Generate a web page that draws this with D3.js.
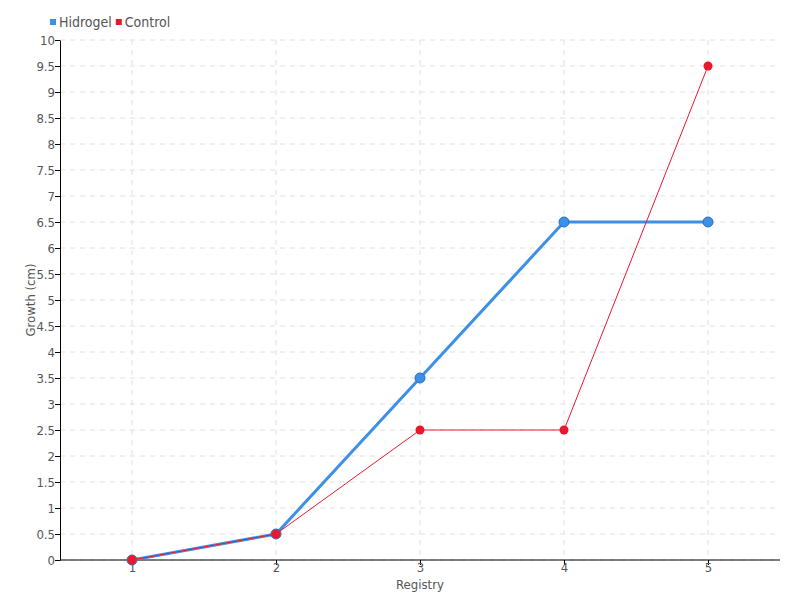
<!DOCTYPE html>
<html><head><meta charset="utf-8">
<script src="https://cdn.jsdelivr.net/npm/d3@7"></script>
<style>body{margin:0;background:#fff}text{font-family:"DejaVu Sans Condensed","DejaVu Sans",sans-serif;font-stretch:condensed}</style>
</head><body><svg id="c" width="800" height="600"></svg>
<script>
const categories = ["1","2","3","4","5"];
const hidrogel = [0, 0.5, 3.5, 6.5, 6.5];
const control = [0, 0.5, 2.5, 2.5, 9.5];
const yTicks = d3.range(0, 10.01, 0.5);
const seriesNames = ["Hidrogel","Control"];
const colors = ["#3d8fe8","#e8192c"];
const FONT = '"DejaVu Sans Condensed","DejaVu Sans",sans-serif';

const svg = d3.select("#c");
const m = {l:60, r:20, t:40, b:40};
const W = 800, H = 600;
const x = d3.scalePoint().domain(categories).range([m.l, W-m.r]).padding(0.5);
const y = d3.scaleLinear().domain([0,10]).range([H-m.b, m.t]);

// grid
svg.append("g").selectAll("line").data(yTicks).join("line")
  .attr("x1", m.l).attr("x2", W-m.r).attr("y1", d=>y(d)).attr("y2", d=>y(d))
  .attr("stroke","#e0e0e0").attr("stroke-dasharray","5,5");
svg.append("g").selectAll("line").data(categories).join("line")
  .attr("x1", d=>x(d)).attr("x2", d=>x(d)).attr("y1", m.t).attr("y2", H-m.b)
  .attr("stroke","#e0e0e0").attr("stroke-dasharray","5,5");

// axes
const xa = svg.append("g").attr("transform",`translate(0,${H-m.b})`)
  .call(d3.axisBottom(x).tickSize(5).tickSizeOuter(0));
const ya = svg.append("g").attr("transform",`translate(${m.l},0)`)
  .call(d3.axisLeft(y).tickValues(yTicks).tickFormat(d3.format("~g")).tickSize(5).tickSizeOuter(0));
[xa, ya].forEach(a=>{
  a.select(".domain").attr("stroke","#000");
  a.selectAll(".tick line").attr("stroke","#000");
  a.selectAll(".tick text").attr("fill","#555").style("font-size","13px")
   .style("font-family",FONT).style("font-stretch","condensed");
});
xa.select(".domain").attr("d", `M${m.l},0H${W-m.r}`);
ya.selectAll(".tick text").attr("x", -5);
xa.selectAll(".tick text").attr("y", 3);

svg.append("text").attr("x", (m.l+W-m.r)/2).attr("y", 589).attr("text-anchor","middle")
  .attr("fill","#555").style("font-size","13px").text("Registry");
svg.append("text").attr("transform",`translate(35,${(m.t+H-m.b)/2}) rotate(-90)`).attr("text-anchor","middle")
  .attr("fill","#555").style("font-size","13px").text("Growth (cm)");

const line = d3.line().x((d,i)=>x(categories[i])).y(d=>y(d));
// Hidrogel
svg.append("path").datum(hidrogel).attr("d", line).attr("fill","none")
  .attr("stroke", colors[0]).attr("stroke-width",3);
svg.append("g").selectAll("circle").data(hidrogel).join("circle")
  .attr("cx",(d,i)=>x(categories[i])).attr("cy", d=>y(d)).attr("r",5)
  .attr("fill",colors[0]).attr("stroke","#2b6cc0").attr("stroke-width",1);
// Control
svg.append("path").datum(control).attr("d", line).attr("fill","none")
  .attr("stroke", colors[1]).attr("stroke-width",1);
svg.append("g").selectAll("circle").data(control).join("circle")
  .attr("cx",(d,i)=>x(categories[i])).attr("cy", d=>y(d)).attr("r",4.5)
  .attr("fill",colors[1]);

// legend
const lg = svg.append("g");
let lx = 50;
seriesNames.forEach((n,i)=>{
  lg.append("rect").attr("x", lx).attr("y", 19).attr("width",6).attr("height",6).attr("fill",colors[i]);
  const t = lg.append("text").attr("x", lx+9).attr("y", 27).attr("fill","#555").style("font-size","14px").text(n);
  lx += 9 + t.node().getComputedTextLength() + 4;
});
</script></body></html>
